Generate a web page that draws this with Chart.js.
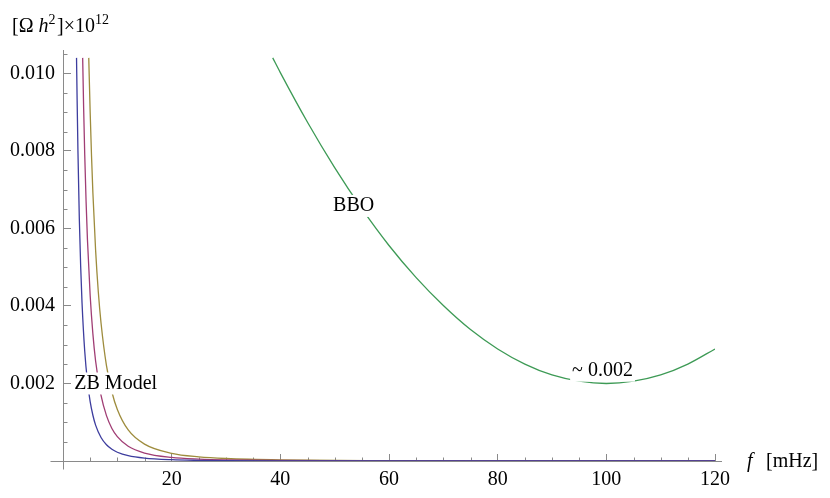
<!DOCTYPE html>
<html>
<head>
<meta charset="utf-8">
<script src="https://cdn.jsdelivr.net/npm/chart.js@4.4.1/dist/chart.umd.min.js"></script>
<style>
    html, body { margin: 0; padding: 0; background: #fff; }
    #wrap { width: 830px; height: 498px; }
</style>
</head>
<body>
<div id="wrap"><canvas id="myChart"></canvas></div>
<script>
// ZB model, three curves (f in mHz, Omega h^2 x 10^12)
var zbBlueF = [2.49, 2.6, 2.75, 3, 3.25, 3.5, 4, 4.5, 5, 5.5, 6, 7, 8, 9, 10, 12, 15, 20, 25, 30, 40, 60, 80, 120];
var zbBlueOmega = [0.0104, 0.00931, 0.0080, 0.00627, 0.00503, 0.00409, 0.00283, 0.00205, 0.00153, 0.00118, 0.000925,
    0.000605, 0.000418, 0.000302, 0.000226, 0.000137, 0.000074, 0.000033, 0.000018, 0.000011, 0.000005, 0.0000016, 0.0000007, 0.0000002];

var zbPinkF = [3.62, 3.8, 4, 4.25, 4.5, 5, 5.5, 6, 7, 8, 9, 10, 12, 15, 20, 25, 30, 40, 60, 80, 120];
var zbPinkOmega = [0.0104, 0.0091, 0.0079, 0.00669, 0.00571, 0.00427, 0.00328, 0.00258, 0.00169, 0.00117, 0.00084,
    0.00063, 0.00038, 0.000206, 0.000093, 0.00005, 0.00003, 0.000014, 0.0000045, 0.000002, 0.0000007];

var zbOliveF = [4.74, 5, 5.25, 5.5, 6, 6.5, 7, 8, 9, 10, 12, 15, 20, 25, 30, 40, 60, 80, 120];
var zbOliveOmega = [0.0104, 0.0090, 0.00787, 0.00692, 0.00544, 0.00436, 0.00356, 0.00246, 0.00178, 0.00133, 0.0008,
    0.000434, 0.000196, 0.000106, 0.000064, 0.000029, 0.0000095, 0.0000043, 0.0000014];

// BBO sensitivity curve
var bboF = [38.6, 40, 45, 50, 55, 60, 65, 70, 75, 80, 85, 90, 95, 100, 105, 110, 115, 120];
var bboOmega = [0.0104, 0.01002, 0.00874, 0.00757, 0.00651, 0.00556, 0.00473, 0.00401, 0.00339, 0.00289,
    0.0025, 0.00222, 0.00206, 0.002, 0.00206, 0.00222, 0.0025, 0.00289];

// text labels placed on the plot [text, f, Omega]
var plotLabels = [
    ["ZB Model", 9.7, 0.002],
    ["BBO", 53.5, 0.00658],
    ["~ 0.002", 99.3, 0.00233]
];

var serif = "'Liberation Serif', 'Times New Roman', serif";
var axisColor = "#8a8a8a";

function points(xs, ys) {
    var out = [];
    for (var i = 0; i < xs.length; i++) {
        out.push({x: xs[i], y: ys[i]});
    }
    return out;
}

function curve(xs, ys, color) {
    return {
        data: points(xs, ys),
        borderColor: color,
        borderWidth: 1.3,
        pointRadius: 0,
        fill: false,
        cubicInterpolationMode: 'monotone'
    };
}

// axis stubs beyond the plot range + minor ticks (inward, like the original)
var axisExtras = {
    id: 'axisExtras',
    beforeDatasetsDraw: function(chart) {
        var ctx = chart.ctx;
        var xs = chart.scales.x, ys = chart.scales.y;
        var x0 = Math.round(xs.getPixelForValue(0)) + 0.5;
        var y0 = Math.round(ys.getPixelForValue(0)) + 0.5;
        ctx.save();
        ctx.strokeStyle = axisColor;
        ctx.lineWidth = 1;
        ctx.beginPath();
        ctx.moveTo(x0 - 13, y0);
        ctx.lineTo(xs.getPixelForValue(120) + 7, y0);
        ctx.moveTo(x0, ys.getPixelForValue(0.0105) - 4);
        ctx.lineTo(x0, y0 + 8);
        for (var f = 5; f < 120; f += 5) {
            if (f % 20 === 0) continue;
            var px = Math.round(xs.getPixelForValue(f)) + 0.5;
            ctx.moveTo(px, y0);
            ctx.lineTo(px, y0 - 4);
        }
        for (var k = 1; k <= 21; k++) {
            if (k % 4 === 0) continue;
            var py = Math.round(ys.getPixelForValue(k * 0.0005)) + 0.5;
            ctx.moveTo(x0, py);
            ctx.lineTo(x0 + 4, py);
        }
        ctx.stroke();
        ctx.restore();
    },
    afterDatasetsDraw: function(chart) {
        var ctx = chart.ctx;
        var xs = chart.scales.x, ys = chart.scales.y;
        ctx.save();
        ctx.font = "20px " + serif;
        ctx.textAlign = 'center';
        ctx.textBaseline = 'middle';
        plotLabels.forEach(function(l) {
            var px = xs.getPixelForValue(l[1]);
            var py = ys.getPixelForValue(l[2]);
            var w = ctx.measureText(l[0]).width;
            ctx.fillStyle = '#fff';
            ctx.fillRect(px - w / 2 - 2, py - 11, w + 4, 22);
            ctx.fillStyle = '#000';
            ctx.fillText(l[0], px, py);
        });

        // y axis title: [Ω h²]×10¹²
        ctx.textAlign = 'left';
        ctx.textBaseline = 'alphabetic';
        var x = 12, base = 32;
        var parts = [
            ["[\u03A9 ", "", 20, 0],
            ["h", "italic ", 20, 0],
            ["2", "", 14, -8],
            ["]\u00D710", "", 20, 0],
            ["12", "", 14, -8]
        ];
        parts.forEach(function(p) {
            ctx.font = p[1] + p[2] + "px " + serif;
            ctx.fillText(p[0], x, base + p[3]);
            x += ctx.measureText(p[0]).width + (p[2] < 20 ? 1.5 : 0);
        });

        // x axis title: f [mHz]
        var tx = xs.getPixelForValue(120) + 32;
        var ty = ys.getPixelForValue(0) + 6;
        ctx.font = "italic 20px " + serif;
        ctx.fillText("f", tx, ty);
        ctx.font = "20px " + serif;
        ctx.fillText("[mHz]", tx + 19, ty);
        ctx.restore();
    }
};

var ctx1 = document.getElementById("myChart");
var myChart = new Chart(ctx1, {
    type: 'line',
    data: {
        datasets: [
            curve(zbBlueF, zbBlueOmega, "#3d3d9e"),
            curve(zbPinkF, zbPinkOmega, "#a03d74"),
            curve(zbOliveF, zbOliveOmega, "#9e8c3d"),
            curve(bboF, bboOmega, "#3d9a55")
        ]
    },
    options: {
        responsive: true,
        maintainAspectRatio: false,
        animation: false,
        layout: {
            padding: {top: 54, right: 115, bottom: 0, left: 0}
        },
        plugins: {
            legend: {display: false},
            tooltip: {enabled: false}
        },
        scales: {
            x: {
                type: 'linear',
                min: 0,
                max: 120,
                ticks: {
                    stepSize: 20,
                    maxRotation: 0,
                    autoSkip: false,
                    padding: 14,
                    color: '#000',
                    font: {family: serif, size: 20},
                    callback: function(v) { return v === 0 ? null : v; }
                },
                grid: {
                    drawOnChartArea: false,
                    tickLength: -7,
                    tickColor: axisColor
                },
                border: {color: axisColor, width: 1},
                afterFit: function(s) { s.height = 37; }
            },
            y: {
                type: 'linear',
                min: 0,
                max: 0.0105,
                ticks: {
                    stepSize: 0.002,
                    includeBounds: false,
                    padding: 16,
                    color: '#000',
                    font: {family: serif, size: 20},
                    callback: function(v) { return v === 0 ? null : v.toFixed(3); }
                },
                grid: {
                    drawOnChartArea: false,
                    tickLength: -8,
                    tickColor: axisColor
                },
                border: {color: axisColor, width: 1},
                afterFit: function(s) { s.width = 63; }
            }
        }
    },
    plugins: [axisExtras]
});
</script>
</body>
</html>
